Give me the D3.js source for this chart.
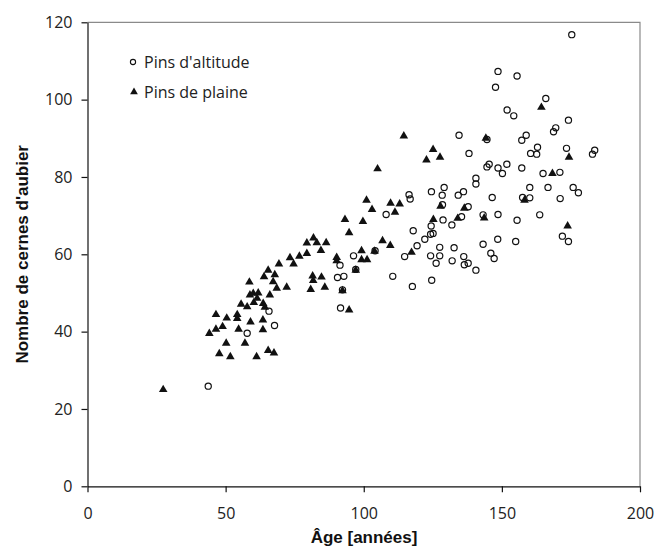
<!DOCTYPE html>
<html>
<head>
<meta charset="utf-8">
<script src="https://cdn.jsdelivr.net/npm/d3@7"></script>
<style>
  body { margin: 0; background: #fff; }
  .tick text { font-family: "Open Sans", sans-serif; font-size: 16px; fill: #222; }
  .title { font-family: "Liberation Sans", Arial, sans-serif; font-weight: bold; font-size: 17px; fill: #111; }
  .legend { font-family: "Open Sans", sans-serif; font-size: 16px; fill: #222; }
</style>
</head>
<body>
<div id="chart"></div>
<script>
// Pins d'altitude : [âge, nombre de cernes]
var altitude = [
  [43.7, 25.9], [57.8, 39.6], [65.7, 45.3], [67.7, 41.6], [90.5, 54.0], [92.8, 54.3],
  [91.6, 46.1], [91.4, 57.2], [92.3, 50.8], [96.3, 59.6], [97.1, 56.1], [104.1, 60.9],
  [108.1, 70.3], [110.5, 54.3], [114.8, 59.4], [116.4, 75.4], [116.8, 74.3], [117.6, 51.7],
  [117.9, 66.1], [119.3, 62.2], [122.1, 63.9], [124.4, 67.3], [125.1, 65.4], [124.2, 65.2],
  [124.5, 76.2], [124.2, 59.6], [124.6, 53.3], [126.2, 57.7], [127.5, 61.8], [127.5, 59.6],
  [128.4, 75.3], [128.5, 72.8], [128.7, 68.9], [129.1, 77.3], [131.9, 67.6], [132.0, 58.3],
  [132.7, 61.7], [134.2, 75.3], [134.5, 90.8], [135.4, 69.7], [136.1, 76.2], [136.2, 59.4],
  [136.4, 57.3], [137.8, 57.7], [137.8, 72.3], [138.1, 86.1], [140.6, 79.7], [140.6, 78.2],
  [140.6, 55.9], [143.2, 70.2], [143.2, 62.6], [144.6, 89.7], [145.4, 83.3], [144.6, 82.6],
  [146.0, 60.3], [147.2, 58.9], [146.5, 74.7], [147.7, 103.2], [148.6, 107.3], [148.6, 82.3],
  [148.6, 70.3], [148.5, 63.9], [150.2, 80.9], [151.8, 83.3], [151.9, 97.3], [154.3, 95.8],
  [155.0, 63.3], [155.5, 68.8], [155.5, 106.1], [157.2, 89.5], [157.2, 82.3], [157.5, 74.7],
  [158.8, 90.8], [160.1, 77.3], [160.1, 74.6], [160.4, 86.1], [162.6, 85.9], [162.9, 87.7],
  [163.7, 70.2], [164.9, 80.9], [165.9, 100.3], [166.7, 77.3], [168.7, 91.7], [169.5, 92.7],
  [171.0, 81.2], [171.1, 74.4], [171.9, 64.7], [173.4, 87.4], [174.1, 94.7], [174.1, 63.3],
  [175.3, 116.8], [175.8, 77.3], [177.7, 75.9], [182.8, 85.9], [183.6, 86.9]
];

// Pins de plaine
var plaine = [
  [27.4, 25.0], [44.1, 39.5], [46.5, 44.4], [46.5, 40.6], [47.7, 34.3], [48.9, 41.3],
  [50.4, 43.5], [50.2, 37.0], [51.7, 33.5], [54.2, 44.4], [54.2, 43.4], [54.7, 40.6],
  [55.6, 47.1], [57.0, 37.0], [57.8, 46.4], [59.0, 42.5], [58.6, 52.8], [58.8, 49.5],
  [60.2, 47.5], [60.0, 49.9], [61.4, 48.6], [61.2, 33.5], [61.8, 50.0], [63.5, 43.0],
  [63.5, 40.5], [63.6, 47.3], [64.2, 46.3], [63.9, 54.2], [65.4, 35.1], [65.4, 55.9],
  [66.0, 49.5], [67.2, 52.9], [67.5, 34.5], [67.8, 54.7], [68.5, 51.2], [69.3, 57.5],
  [72.1, 51.5], [73.3, 59.1], [74.6, 57.5], [76.7, 59.5], [79.4, 60.2], [79.4, 62.9],
  [81.8, 64.2], [83.0, 63.0], [84.5, 61.0], [86.4, 63.0], [80.8, 50.9], [81.5, 54.4],
  [81.7, 53.2], [84.7, 54.1], [85.9, 51.5], [90.2, 59.2], [90.2, 58.3], [92.3, 50.6],
  [93.2, 69.0], [94.7, 65.6], [94.7, 45.6], [97.1, 55.9], [99.2, 60.9], [99.2, 58.6],
  [101.2, 58.6], [99.7, 68.5], [101.0, 74.0], [103.0, 71.6], [103.9, 60.8], [105.0, 82.1],
  [106.8, 63.5], [109.6, 62.3], [109.7, 73.2], [111.3, 70.9], [113.0, 73.0], [114.5, 90.6],
  [117.3, 60.5], [122.7, 84.4], [125.1, 87.1], [127.6, 85.1], [125.2, 69.0], [127.8, 72.4],
  [134.0, 69.3], [136.4, 71.9], [143.6, 69.4], [144.2, 90.0], [158.2, 74.0], [164.3, 98.0],
  [168.3, 80.9], [173.8, 67.3], [174.3, 85.1]
];

var xTicks = [0, 50, 100, 150, 200];
var yTicks = [0, 20, 40, 60, 80, 100, 120];
var seriesNames = ["Pins d'altitude", "Pins de plaine"];

var width = 660, height = 554;
var mLeft = 87.5, mRight = 640, mTop = 22.3, mBottom = 486.3;

var x = d3.scaleLinear().domain([0, 200]).range([mLeft, mRight]);
var y = d3.scaleLinear().domain([0, 120]).range([mBottom, mTop]);

var svg = d3.select("#chart").append("svg")
    .attr("width", width)
    .attr("height", height);

// top and right frame lines (grey)
svg.append("path")
   .attr("d", `M${mLeft},${mTop}H${mRight}V${mBottom}`)
   .attr("fill", "none")
   .attr("stroke", "#8a8a8a")
   .attr("stroke-width", 1.2);

svg.append("g")
   .attr("transform", `translate(0,${mBottom})`)
   .call(d3.axisBottom(x).tickValues(xTicks).tickSize(6).tickSizeOuter(0).tickPadding(15));

svg.append("g")
   .attr("transform", `translate(${mLeft},0)`)
   .call(d3.axisLeft(y).tickValues(yTicks).tickSize(6).tickSizeOuter(0).tickPadding(9));

svg.selectAll(".domain, .tick line").attr("stroke", "#111").attr("stroke-width", 1.2);

// axis titles
svg.append("text")
   .attr("class", "title")
   .attr("text-anchor", "middle")
   .attr("x", 364)
   .attr("y", 543)
   .text("Âge [années]");

svg.append("text")
   .attr("class", "title")
   .attr("text-anchor", "middle")
   .attr("transform", `translate(27.5,${(mTop + mBottom) / 2}) rotate(-90)`)
   .text("Nombre de cernes d'aubier");

var tri = d3.symbol().type(d3.symbolTriangle).size(32);

// points
svg.append("g").selectAll("circle")
   .data(altitude)
   .join("circle")
   .attr("cx", d => x(d[0]))
   .attr("cy", d => y(d[1]))
   .attr("r", 3.1)
   .attr("fill", "none")
   .attr("stroke", "#111")
   .attr("stroke-width", 1.2);

svg.append("g").selectAll("path")
   .data(plaine)
   .join("path")
   .attr("d", tri)
   .attr("transform", d => `translate(${x(d[0])},${y(d[1])})`)
   .attr("fill", "#111");

// legend
var lg = svg.append("g");
lg.append("circle").attr("cx", 133).attr("cy", 62).attr("r", 2.6)
  .attr("fill", "none").attr("stroke", "#111").attr("stroke-width", 1.1);
lg.append("path").attr("d", d3.symbol().type(d3.symbolTriangle).size(26))
  .attr("transform", "translate(134,92)").attr("fill", "#111");
lg.append("text").attr("class", "legend").attr("x", 144).attr("y", 68).text(seriesNames[0]);
lg.append("text").attr("class", "legend").attr("x", 144).attr("y", 98).text(seriesNames[1]);
</script>
</body>
</html>
